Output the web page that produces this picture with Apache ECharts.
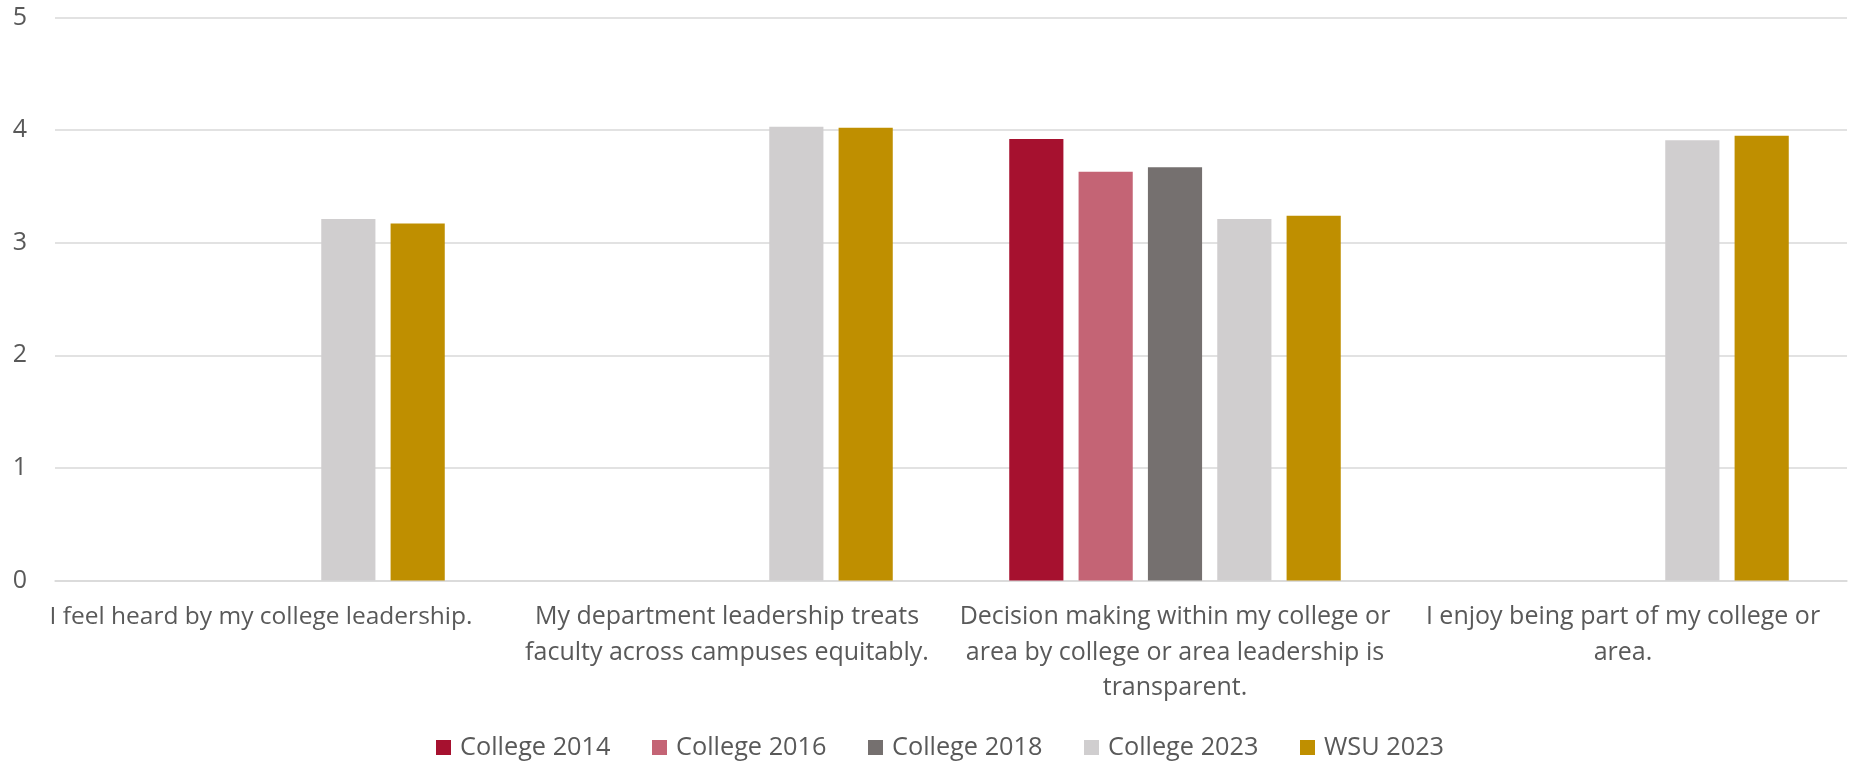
<!DOCTYPE html>
<html>
<head>
<meta charset="utf-8">
<script src="https://cdn.jsdelivr.net/npm/echarts@6/dist/echarts.min.js"></script>
<style>
html,body{margin:0;padding:0;background:#fff;}
#chart{width:1853px;height:765px;}
</style>
</head>
<body>
<div id="chart"></div>
<script>
const categories = [
  "I feel heard by my college leadership.",
  "My department leadership treats\nfaculty across campuses equitably.",
  "Decision making within my college or\narea by college or area leadership is\ntransparent.",
  "I enjoy being part of my college or\narea."
];
const seriesNames = ["College 2014", "College 2016", "College 2018", "College 2023", "WSU 2023"];
const college2014 = [null, null, 3.92, null];
const college2016 = [null, null, 3.63, null];
const college2018 = [null, null, 3.67, null];
const college2023 = [3.21, 4.03, 3.21, 3.91];
const wsu2023 = [3.17, 4.02, 3.24, 3.95];
const yTicks = [0, 1, 2, 3, 4, 5];
const colors = ["#A6112F", "#C46475", "#75706F", "#D0CECF", "#BF8F00"];

const values = [college2014, college2016, college2018, college2023, wsu2023];
const font = "'Open Sans', 'Noto Sans', sans-serif";

const chart = echarts.init(document.getElementById('chart'), null, {renderer: 'canvas'});
chart.setOption({
  animation: false,
  color: colors,
  grid: {left: 55, right: 6, top: 17.5, bottom: 184.5, containLabel: false},
  legend: {
    bottom: 0,
    left: 431,
    itemWidth: 15,
    itemHeight: 15,
    itemGap: 41.5,
    icon: 'rect',
    textStyle: {fontFamily: font, fontSize: 25.3, color: '#595959', padding: [0, 0, 0, 4]},
    data: seriesNames
  },
  xAxis: {
    type: 'category',
    data: categories,
    axisLine: {show: true, lineStyle: {color: '#D9D9D9', width: 1.5}},
    axisTick: {show: false},
    axisLabel: {
      interval: 0,
      fontFamily: font,
      fontSize: 25,
      color: '#595959',
      lineHeight: 35.5,
      margin: 19,
      formatter: function (v, i) { return i === 0 ? '{first|' + v + '}' : v; },
      rich: {
        first: {fontFamily: font, fontSize: 24.5, color: '#595959', lineHeight: 35.5, padding: [0, 36, 0, 0]}
      }
    }
  },
  yAxis: {
    type: 'value',
    min: yTicks[0],
    max: yTicks[yTicks.length - 1],
    interval: 1,
    axisLine: {show: false},
    axisTick: {show: false},
    splitLine: {lineStyle: {color: '#D9D9D9', width: 1.5}},
    axisLabel: {fontFamily: font, fontSize: 25, color: '#595959', margin: 28}
  },
  series: seriesNames.map((name, i) => ({
    name: name,
    type: 'bar',
    data: values[i],
    barGap: '28%',
    barCategoryGap: '26%',
    itemStyle: {color: colors[i]}
  }))
});
</script>
</body>
</html>
